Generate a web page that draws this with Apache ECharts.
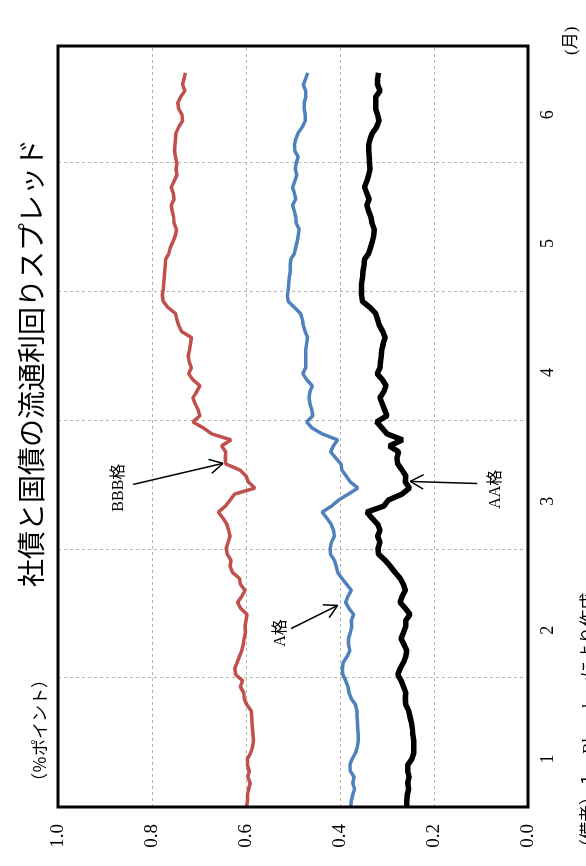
<!DOCTYPE html>
<html>
<head>
<meta charset="utf-8">
<script src="https://cdn.jsdelivr.net/npm/echarts@6/dist/echarts.min.js"></script>
<style>
html, body { margin: 0; padding: 0; overflow: hidden; background: #fff; width: 586px; height: 866px; }
/* the chart is laid out landscape and turned a quarter turn to the left */
#chart { position: absolute; left: 0; top: 0; width: 866px; height: 586px;
  transform-origin: 0 0; transform: translate(0, 866px) rotate(-90deg); }
</style>
</head>
<body>
<div id="chart"></div>
<script>
// business days from the start of January, one value per day (%pt)
var bbb = [0.599,0.597,0.597,0.594,0.591,0.596,0.593,0.597,0.597,0.590,
  0.586,0.584,0.585,0.586,0.587,0.588,0.589,0.598,0.604,0.605,
  0.612,0.607,0.622,0.624,0.619,0.614,0.609,0.606,0.604,0.601,
  0.602,0.600,0.598,0.611,0.618,0.609,0.602,0.612,0.614,0.629,
  0.634,0.632,0.640,0.642,0.638,0.634,0.637,0.641,0.649,0.659,
  0.644,0.634,0.624,0.581,0.595,0.600,0.613,0.643,0.644,0.643,
  0.652,0.632,0.673,0.691,0.713,0.698,0.702,0.708,0.713,0.705,
  0.698,0.713,0.722,0.716,0.721,0.723,0.720,0.718,0.716,0.737,
  0.743,0.747,0.750,0.766,0.776,0.778,0.776,0.775,0.774,0.773,
  0.772,0.771,0.764,0.761,0.755,0.750,0.748,0.753,0.754,0.757,
  0.759,0.753,0.755,0.759,0.753,0.747,0.749,0.747,0.750,0.752,
  0.751,0.750,0.749,0.743,0.735,0.736,0.743,0.745,0.739,0.730,
  0.735,0.732,0.729];
var gradeA = [0.377,0.376,0.373,0.369,0.373,0.370,0.378,0.379,0.374,0.367,
  0.363,0.361,0.361,0.362,0.363,0.364,0.364,0.367,0.376,0.381,
  0.383,0.388,0.394,0.395,0.393,0.385,0.379,0.382,0.382,0.378,
  0.375,0.376,0.371,0.381,0.388,0.383,0.376,0.386,0.396,0.405,
  0.408,0.412,0.420,0.421,0.418,0.412,0.414,0.419,0.428,0.438,
  0.418,0.403,0.382,0.362,0.378,0.387,0.396,0.398,0.409,0.420,
  0.414,0.405,0.438,0.460,0.471,0.458,0.460,0.464,0.466,0.464,
  0.459,0.471,0.479,0.473,0.473,0.473,0.473,0.471,0.469,0.474,
  0.478,0.480,0.484,0.497,0.510,0.512,0.510,0.509,0.508,0.506,
  0.506,0.505,0.497,0.494,0.491,0.489,0.487,0.493,0.494,0.497,
  0.501,0.494,0.497,0.501,0.496,0.492,0.495,0.493,0.489,0.496,
  0.497,0.494,0.489,0.480,0.474,0.474,0.476,0.476,0.473,0.473,
  0.478,0.473,0.469];
var aa = [0.258,0.258,0.257,0.254,0.256,0.253,0.256,0.256,0.247,0.243,
  0.243,0.243,0.245,0.246,0.248,0.251,0.254,0.260,0.261,0.260,
  0.265,0.270,0.277,0.272,0.265,0.260,0.258,0.264,0.270,0.265,
  0.260,0.260,0.251,0.261,0.272,0.268,0.261,0.265,0.272,0.283,
  0.293,0.304,0.318,0.319,0.315,0.320,0.315,0.320,0.332,0.343,
  0.307,0.297,0.268,0.252,0.261,0.260,0.268,0.277,0.279,0.275,
  0.295,0.267,0.300,0.311,0.322,0.300,0.305,0.310,0.315,0.307,
  0.302,0.310,0.321,0.315,0.314,0.312,0.311,0.308,0.304,0.309,
  0.316,0.320,0.324,0.336,0.352,0.354,0.354,0.354,0.352,0.351,
  0.349,0.348,0.339,0.335,0.331,0.328,0.327,0.332,0.334,0.339,
  0.343,0.338,0.343,0.348,0.343,0.339,0.336,0.337,0.338,0.339,
  0.339,0.336,0.331,0.322,0.317,0.320,0.324,0.324,0.324,0.315,
  0.320,0.320,0.318];
var monthLabels = ['1', '2', '3', '4', '5', '6'];
var monthLen = 21.41;   // business days per month on the axis
var axisEnd = 126.45;

function pairs(arr) {
  return arr.map(function (v, i) { return [i, v]; });
}

var serif = '"Liberation Serif", "Noto Sans CJK JP", serif';
var gridDash = { color: '#b4b4b4', type: [3, 3], width: 1 };
var myChart = echarts.init(document.getElementById('chart'));

option = {
  animation: false,
  grid: { left: 59, right: 46, top: 58, bottom: 58 },
  xAxis: {
    type: 'value', min: 0, max: axisEnd, interval: monthLen,
    axisLine: { show: false },
    axisTick: { show: false },
    splitLine: { show: true, showMinLine: false, showMaxLine: false, lineStyle: gridDash },
    axisLabel: {
      margin: 11, color: '#000', fontFamily: serif, fontSize: 18,
      align: 'center', padding: [0, 0, 0, 96],
      formatter: function (v) {
        var k = Math.round(v / monthLen);
        if (Math.abs(v - k * monthLen) > 0.01) return '';
        return monthLabels[k] || '';
      }
    }
  },
  yAxis: {
    type: 'value', min: 0, max: 1, interval: 0.2,
    axisLine: { show: false },
    axisTick: { show: false },
    splitLine: { show: true, showMinLine: false, showMaxLine: false, lineStyle: gridDash },
    axisLabel: {
      margin: 17, color: '#000', fontFamily: serif, fontSize: 19,
      formatter: function (v) { return v.toFixed(1); }
    }
  },
  series: [
    { name: 'BBB格', type: 'line', data: pairs(bbb), showSymbol: false,
      lineStyle: { color: '#C0504D', width: 3.5 } },
    { name: 'A格', type: 'line', data: pairs(gradeA), showSymbol: false,
      lineStyle: { color: '#4F81BD', width: 3.5 } },
    { name: 'AA格', type: 'line', data: pairs(aa), showSymbol: false,
      lineStyle: { color: '#000', width: 5.5 } }
  ]
};
myChart.setOption(option);

// plot frame, drawn over the grid lines
var c0 = myChart.convertToPixel({ gridIndex: 0 }, [0, 0]);
var c1 = myChart.convertToPixel({ gridIndex: 0 }, [axisEnd, 1]);
var g = [{ type: 'rect', z: 100,
  shape: { x: c0[0], y: c1[1], width: c1[0] - c0[0], height: c0[1] - c1[1] },
  style: { fill: 'none', stroke: '#000', lineWidth: 3 } }];

// labels and arrows, placed in data coordinates
var notes = [
  { text: 'BBB格', at: [53.06, 0.870], from: [53.6, 0.840], to: [57.1, 0.649] },
  { text: 'A格', at: [28.9, 0.527], from: [29.65, 0.504], to: [33.5, 0.405] },
  { text: 'AA格', at: [52.8, 0.069], from: [53.75, 0.108], to: [54.1, 0.2505] }
];
notes.forEach(function (n) {
  var p = myChart.convertToPixel({ gridIndex: 0 }, n.at);
  var a = myChart.convertToPixel({ gridIndex: 0 }, n.from);
  var b = myChart.convertToPixel({ gridIndex: 0 }, n.to);
  g.push({ type: 'text', x: p[0], y: p[1],
    style: { text: n.text, font: '16px ' + serif, fill: '#000', align: 'center', verticalAlign: 'middle' } });
  g.push({ type: 'line', shape: { x1: a[0], y1: a[1], x2: b[0], y2: b[1] },
    style: { stroke: '#000', lineWidth: 1.5 } });
  var ang = Math.atan2(b[1] - a[1], b[0] - a[0]);
  [0.5, -0.5].forEach(function (d) {
    g.push({ type: 'line', shape: { x1: b[0], y1: b[1],
      x2: b[0] - 15 * Math.cos(ang + d), y2: b[1] - 15 * Math.sin(ang + d) },
      style: { stroke: '#000', lineWidth: 1.5 } });
  });
});
g.push({ type: 'text', x: 503, y: 31, style: { text: '社債と国債の流通利回りスプレッド',
  font: '28px "Noto Sans CJK JP", sans-serif', fill: '#000', align: 'center', verticalAlign: 'middle' } });
g.push({ type: 'text', x: 76, y: 42, style: { text: '（％ポイント）',
  font: '17px ' + serif, fill: '#000', align: 'left', verticalAlign: 'middle' } });
g.push({ type: 'text', x: 811, y: 572, style: { text: '(月)',
  font: '17px ' + serif, fill: '#000', align: 'left', verticalAlign: 'middle' } });
g.push({ type: 'text', x: 10, y: 590, style: { text: '（備考）１．Bloombergにより作成',
  font: '17px ' + serif, fill: '#000', align: 'left', verticalAlign: 'middle' } });
myChart.setOption({ graphic: g });
</script>
</body>
</html>
